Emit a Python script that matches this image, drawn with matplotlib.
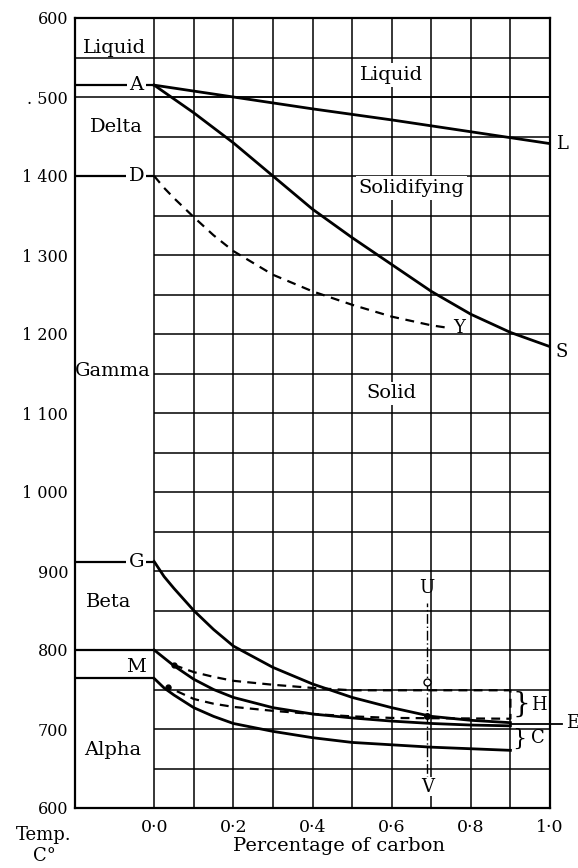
import numpy as np
import matplotlib
matplotlib.use("Agg")
import matplotlib.pyplot as plt

plt.rcParams['font.family'] = ['DejaVu Serif']

# --- curve data (carbon %, temperature C) ---
liquidus_c = [0.0, 0.2, 0.4, 0.6, 0.8, 1.0]
liquidus_t = [1515, 1500, 1485, 1471, 1456, 1441]

solidus_c = [0.0, 0.1, 0.2, 0.3, 0.4, 0.5, 0.6, 0.7, 0.8, 0.9, 1.0]
solidus_t = [1515, 1480, 1442, 1400, 1358, 1322, 1288, 1254, 1225, 1202, 1184]

dy_c = [0.0, 0.025, 0.05, 0.1, 0.15, 0.2, 0.3, 0.4, 0.5, 0.6, 0.7, 0.74]
dy_t = [1400, 1385, 1372, 1348, 1325, 1305, 1275, 1254, 1237, 1222, 1211, 1208]

curve_c = [0.0, 0.025, 0.05, 0.1, 0.15, 0.2, 0.3, 0.4, 0.5, 0.6, 0.7, 0.8, 0.9]
g_t = [912, 893, 878, 850, 826, 805, 778, 757, 740, 727, 716, 711, 708]
m_t = [800, 790, 780, 763, 750, 740, 727, 719, 714, 710, 707, 705, 704]
low_t = [764, 752, 743, 727, 716, 707, 697, 689, 683, 680, 677, 675, 673]

# dashed box (heating curves)
h_up_c = [0.05, 0.1, 0.15, 0.2, 0.3, 0.4, 0.5, 0.9]
h_up_t = [781, 772, 766, 761, 756, 752, 749, 749]
h_lo_c = [0.035, 0.1, 0.15, 0.2, 0.3, 0.4, 0.5, 0.6, 0.9]
h_lo_t = [753, 738, 732, 728, 723, 719, 716, 714, 713]

e_c = [0.9, 1.03]
e_t = [706, 706]

uv_c = 0.69
uv_t = [623, 860]
circle_t = 759
dot_t = 716

# horizontal lines in the left panel
left_lines = {"A": 1515, "D": 1400, "G": 912}
m_band = [800, 764]

ytick_vals = [600, 700, 800, 900, 1000, 1100, 1200, 1300, 1400, 1500, 1600]
ytick_labels = ["600", "700", "800", "900", "1 000", "1 100", "1 200",
                "1 300", "1 400", ". 500", "600"]
xtick_vals = [0.0, 0.2, 0.4, 0.6, 0.8, 1.0]
xtick_labels = ["0·0", "0·2", "0·4", "0·6", "0·8", "1·0"]

W, H = 578, 868
fig = plt.figure(figsize=(W / 100, H / 100), dpi=100)
ax = fig.add_axes([75 / W, 1 - 808 / H, (550 - 75) / W, (808 - 18) / H])
ax.set_xlim(-0.2, 1.0)
ax.set_ylim(600, 1600)

for s in ax.spines.values():
    s.set_linewidth(1.6)

# --- grid ---
glw = 1.1
ax.vlines(np.arange(0.0, 1.01, 0.1), 600, 1600, color='k', lw=glw)
ax.hlines(np.arange(650, 1501, 50), 0.0, 1.0, color='k', lw=glw)
ax.hlines([1500, 1550], -0.2, 1.0, color='k', lw=glw)

# left panel lines
lw = 2.0
for name, t in left_lines.items():
    ax.hlines(t, -0.2, 0.0, color='k', lw=1.6)
    ax.text(-0.045, t, name, ha='center', va='center', fontsize=14,
            bbox=dict(facecolor='white', edgecolor='none', pad=1.5))
ax.hlines(m_band, -0.2, 0.0, color='k', lw=1.6)
ax.text(-0.045, 779, "M", ha='center', va='center', fontsize=14)

# --- curves ---
ax.plot(liquidus_c, liquidus_t, color='k', lw=lw)
ax.plot(solidus_c, solidus_t, color='k', lw=lw)
ax.plot(dy_c, dy_t, color='k', lw=1.6, dashes=(4, 3))
ax.plot(curve_c, g_t, color='k', lw=lw)
ax.plot(curve_c, m_t, color='k', lw=lw)
ax.plot(curve_c, low_t, color='k', lw=lw)

box_c = h_up_c + h_lo_c[::-1]
box_t = h_up_t + h_lo_t[::-1]
ax.plot(box_c, box_t, color='k', lw=1.6, dashes=(4, 2.8))
ax.plot(h_up_c[0], h_up_t[0], 'o', ms=3.5, color='k')
ax.plot(h_lo_c[0], h_lo_t[0], 'o', ms=3.5, color='k')

ax.plot(e_c, e_t, color='k', lw=1.3, clip_on=False)

ax.plot([uv_c, uv_c], uv_t, color='k', lw=1.0, dashes=(7, 2, 1, 2))
ax.plot(uv_c, circle_t, 'o', ms=5, mfc='white', mec='k', mew=1.0)
ax.plot(uv_c, dot_t, 'o', ms=4, color='k')

# --- labels ---
box = dict(facecolor='white', edgecolor='none', pad=2)
ax.text(-0.1, 1562, "Liquid", ha='center', va='center', fontsize=14)
ax.text(-0.095, 1462, "Delta", ha='center', va='center', fontsize=14)
ax.text(-0.105, 1153, "Gamma", ha='center', va='center', fontsize=14)
ax.text(-0.115, 861, "Beta", ha='center', va='center', fontsize=14)
ax.text(-0.105, 673, "Alpha", ha='center', va='center', fontsize=14)

ax.text(0.60, 1528, "Liquid", ha='center', va='center', fontsize=14, bbox=box)
ax.text(0.65, 1385, "Solidifying", ha='center', va='center', fontsize=14, bbox=box)
ax.text(0.60, 1125, "Solid", ha='center', va='center', fontsize=14, bbox=box)

ax.text(1.03, 1440, "L", ha='center', va='center', fontsize=13, clip_on=False)
ax.text(1.03, 1177, "S", ha='center', va='center', fontsize=13, clip_on=False)
ax.text(0.77, 1208, "Y", ha='center', va='center', fontsize=13)
ax.text(1.058, 707, "E", ha='center', va='center', fontsize=13, clip_on=False)
ax.text(uv_c, 878, "U", ha='center', va='center', fontsize=13)
ax.text(uv_c, 627, "V", ha='center', va='center', fontsize=13,
        bbox=dict(facecolor='white', edgecolor='none', pad=0.5))

ax.text(0.905, 731, "}", ha='left', va='center', fontsize=20)
ax.text(0.952, 731, "H", ha='left', va='center', fontsize=13)
ax.text(0.905, 688, "}", ha='left', va='center', fontsize=16)
ax.text(0.952, 688, "C", ha='left', va='center', fontsize=13)

# --- ticks ---
ax.set_yticks(ytick_vals)
ax.set_yticklabels(ytick_labels, fontsize=11.5)
ax.set_xticks(xtick_vals)
ax.set_xticklabels(xtick_labels, fontsize=12.5)
ax.tick_params(axis='both', length=0)
ax.tick_params(axis='y', pad=5)
ax.tick_params(axis='x', pad=8)

fig.text(339 / W, 1 - 846 / H, "Percentage of carbon", ha='center', va='center', fontsize=14)
fig.text(44 / W, 1 - 835 / H, "Temp.", ha='center', va='center', fontsize=13)
fig.text(44 / W, 1 - 856 / H, "C°", ha='center', va='center', fontsize=13)

fig.savefig("out.png", dpi=100)
